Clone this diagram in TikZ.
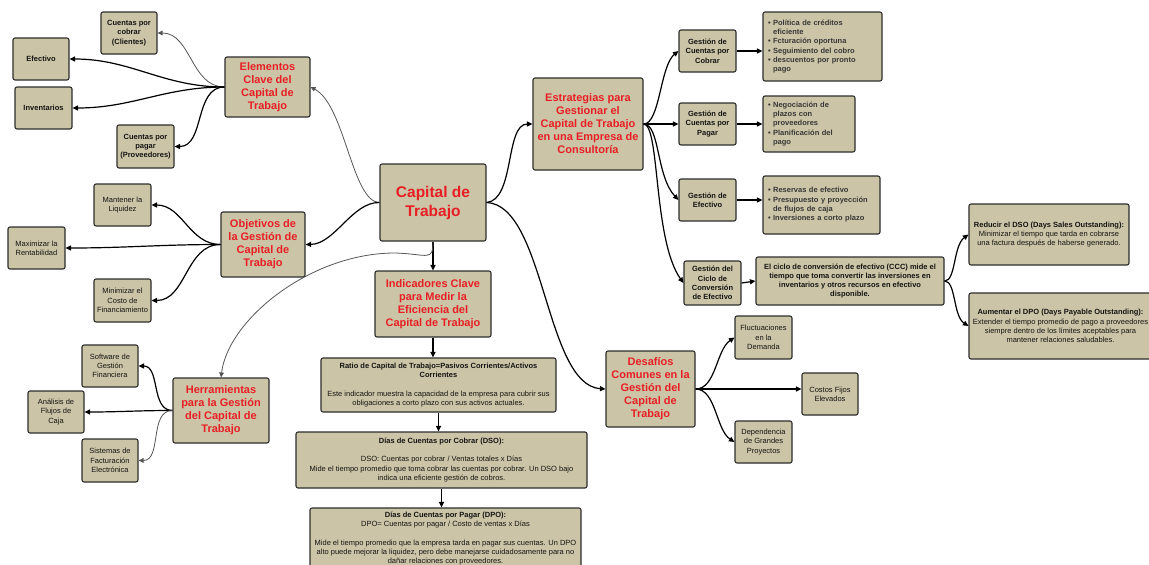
\documentclass[tikz,border=0pt]{standalone}
\usepackage{fontspec}
\setmainfont{Liberation Sans}
\usetikzlibrary{arrows.meta}
\definecolor{boxfill}{RGB}{204,196,166}
\definecolor{boxline}{RGB}{45,45,45}
\definecolor{titlered}{RGB}{232,30,36}
\definecolor{linegray}{RGB}{85,85,85}
\definecolor{bullettext}{RGB}{55,55,55}

\tikzset{
  box/.style={draw=boxline, fill=boxfill, line width=1.1pt, rounded corners=2pt,
              inner sep=0pt, align=center, text=black!92},
  sz/.style 2 args={minimum width=#1pt, minimum height=#2pt},
  title/.style={box, text=titlered, font=\fontsize{11}{13}\selectfont\bfseries},
  leaf/.style={box, font=\fontsize{7.5}{9.3}\selectfont},
  leafb/.style={box, font=\fontsize{7.5}{9.3}\selectfont\bfseries},
  listbox/.style={leafb, text=bullettext, align=left, inner xsep=5pt, text width=#1pt},
  conn/.style={line width=1.2pt, draw=black, -{Triangle[length=5.5pt,width=5pt]}},
  thinconn/.style={line width=0.8pt, draw=linegray, -{Triangle[length=5pt,width=4.6pt]}},
}
\newcommand{\bul}{\textbullet\ }
\newcommand{\hang}{\phantom{\textbullet\ }}

\begin{document}
\begin{tikzpicture}[x=1pt,y=-1pt]
\useasboundingbox (0,0) rectangle (1149,565);
\clip (0,0) rectangle (1149,565);

% central topic
\node[box, sz={106}{77}, text=titlered, font=\fontsize{15.5}{19}\selectfont\bfseries]
  (cap) at (433,202.5) {Capital de\\Trabajo};

% key elements
\node[title, sz={85}{60}] (elem) at (267.5,87) {Elementos\\Clave del\\Capital de\\Trabajo};
\node[leafb, sz={56}{42}] (cxc) at (129,33) {Cuentas por\\cobrar\\(Clientes)};
\node[leafb, sz={56}{42}] (efe) at (41,59) {Efectivo};
\node[leafb, sz={57}{42}] (inv) at (43.5,108) {Inventarios};
\node[leafb, sz={57}{43}] (cxp) at (145.5,146.5) {Cuentas por\\pagar\\(Proveedores)};

% objectives
\node[title, sz={84}{65}] (obj) at (263,244.5) {Objetivos de\\la Gestión de\\Capital de\\Trabajo};
\node[leaf, sz={57}{42}] (mant) at (122.5,205) {Mantener la\\Liquidez};
\node[leaf, sz={57}{42}] (maxi) at (36.5,248) {Maximizar la\\Rentabilidad};
\node[leaf, sz={57}{43}] (mini) at (122.5,300.5) {Minimizar el\\Costo de\\Financiamiento};

% tools
\node[title, sz={96}{65}] (herr) at (221,410.5) {Herramientas\\para la Gestión\\del Capital de\\Trabajo};
\node[leaf, sz={56}{42}] (soft) at (110,366) {Software de\\Gestión\\Financiera};
\node[leaf, sz={56}{42}] (anal) at (56,412) {Análisis de\\Flujos de\\Caja};
\node[leaf, sz={56}{43}] (sist) at (110,460.5) {Sistemas de\\Facturación\\Electrónica};

% indicators
\node[title, sz={116}{66}] (ind) at (433,304) {Indicadores Clave\\para Medir la\\Eficiencia del\\Capital de Trabajo};
\node[leaf, sz={235}{54}] (ratio) at (438.5,385)
  {\textbf{Ratio de Capital de Trabajo=Pasivos Corrientes/Activos}\\\textbf{Corrientes}\\[9.3pt]
   Este indicador muestra la capacidad de la empresa para cubrir sus\\obligaciones a corto plazo con sus activos actuales.};
\node[leaf, sz={291}{56}] (dso) at (441.5,460)
  {\textbf{Días de Cuentas por Cobrar (DSO):}\\[9.3pt]
   DSO: Cuentas por cobrar / Ventas totales x Días\\
   Mide el tiempo promedio que toma cobrar las cuentas por cobrar. Un DSO bajo\\
   indica una eficiente gestión de cobros.};
\node[leaf, sz={271}{61}] (dpo) at (445.5,538.5)
  {\textbf{Días de Cuentas por Pagar (DPO):}\\
   DPO= Cuentas por pagar / Costo de ventas x Días\\[9.3pt]
   Mide el tiempo promedio que la empresa tarda en pagar sus cuentas. Un DPO\\
   alto puede mejorar la liquidez, pero debe manejarse cuidadosamente para no\\
   dañar relaciones con proveedores.};

% strategies
\node[title, sz={110}{92}] (estr) at (588,124) {Estrategias para\\Gestionar el\\Capital de Trabajo\\en una Empresa de\\Consultoría};
\node[leafb, sz={57}{42}] (gcc) at (707.5,51) {Gestión de\\Cuentas por\\Cobrar};
\node[leafb, sz={57}{42}] (gcp) at (707.5,124) {Gestión de\\Cuentas por\\Pagar};
\node[leafb, sz={57}{42}] (gef) at (707.5,200) {Gestión de\\Efectivo};
\node[leafb, sz={57}{44}] (gci) at (712.5,283) {Gestión del\\Ciclo de\\Conversión\\de Efectivo};

\node[listbox=109, sz={119}{69}] (lcc) at (822.5,46.5)
  {\bul Política de créditos\\\hang eficiente\\\bul Fcturación oportuna\\\bul Seguimiento del cobro\\\bul descuentos por pronto\\\hang pago};
\node[listbox=82, sz={92}{56}] (lcp) at (809,124)
  {\bul Negociación de\\\hang plazos con\\\hang proveedores\\\bul Planificación del\\\hang pago};
\node[listbox=107, sz={117}{58}] (lef) at (821.5,205)
  {\bul Reservas de efectivo\\\bul Presupuesto y proyección\\\hang de flujos de caja\\\bul Inversiones a corto plazo};
\node[leafb, sz={188}{48}] (ccc) at (850,281)
  {El ciclo de conversión de efectivo (CCC) mide el\\tiempo que toma convertir las inversiones en\\inventarios y otros recursos en efectivo\\disponible.};
\node[leaf, sz={160}{61}] (red) at (1049,234.5)
  {\textbf{Reducir el DSO (Days Sales Outstanding):}\\Minimizar el tiempo que tarda en cobrarse\\una factura después de haberse generado.};
\node[leaf, sz={183}{66}] (aum) at (1060.5,326)
  {\textbf{Aumentar el DPO (Days Payable Outstanding):}\\Extender el tiempo promedio de pago a proveedores\\siempre dentro de los límites aceptables para\\mantener relaciones saludables.};

% challenges
\node[title, sz={89}{76}] (des) at (650.5,389) {Desafíos\\Comunes en la\\Gestión del\\Capital de\\Trabajo};
\node[leaf, sz={57}{43}] (fluc) at (763.5,337.5) {Fluctuaciones\\en la\\Demanda};
\node[leaf, sz={56}{42}] (cos) at (830,394) {Costos Fijos\\Elevados};
\node[leaf, sz={57}{42}] (dep) at (763.5,442) {Dependencia\\de Grandes\\Proyectos};

% connectors from the central topic
\draw[thinconn] (cap.west) .. controls (352,202) and (345,105) .. (elem.east);
\draw[conn] (cap.west) .. controls (352,202) and (335,244) .. (obj.east);
\draw[conn] (cap.south) -- (ind.north);
\draw[thinconn] (cap.south) .. controls (433,262) and (428,254) .. (395,253)
  .. controls (310,253) and (228,320) .. (herr.north);
\draw[conn] (cap.east) .. controls (515,200) and (505,124) .. (estr.west);
\draw[conn] (cap.east) .. controls (545,205) and (545,385) .. (des.west);

% key elements
\draw[thinconn] (elem.west) to[out=180,in=0] (cxc.east);
\draw[conn] (elem.west) to[out=180,in=0] (efe.east);
\draw[conn] (elem.west) to[out=180,in=0] (inv.east);
\draw[conn] (elem.west) to[out=180,in=0] (cxp.east);

% objectives
\draw[conn] (obj.west) to[out=180,in=0] (mant.east);
\draw[conn] (obj.west) to[out=180,in=0] (maxi.east);
\draw[conn] (obj.west) to[out=180,in=0] (mini.east);

% tools
\draw[conn] (herr.west) to[out=180,in=0] (soft.east);
\draw[conn] (herr.west) to[out=180,in=0] (anal.east);
\draw[thinconn] (herr.west) to[out=180,in=0] (sist.east);

% indicators chain
\draw[conn] (ind.south) -- (ind.south |- ratio.north);
\draw[conn] (ratio.south) -- (ratio.south |- dso.north);
\draw[conn] (dso.south) -- (dso.south |- dpo.north);

% strategies
\draw[conn] (estr.east) .. controls (660,124) and (660,66) .. (gcc.west);
\draw[conn] (estr.east) -- (gcp.west);
\draw[conn] (estr.east) .. controls (660,124) and (656,176) .. (gef.west);
\draw[conn] (estr.east) .. controls (660,124) and (653,240) .. (gci.west);
\draw[conn] (gcc.east) -- (gcc.east -| lcc.west);
\draw[conn] (gcp.east) -- (lcp.west);
\draw[conn] (gef.east) -- (gef.east -| lef.west);
\draw[conn] (gci.east) -- (ccc.west);
\draw[conn] (ccc.east) .. controls (956,281) and (953,246) .. (red.west);
\draw[conn] (ccc.east) .. controls (956,281) and (953,316) .. (aum.west);

% challenges
\draw[conn] (des.east) .. controls (716,389) and (716,350) .. (fluc.west);
\draw[conn] (des.east) -- (des.east -| cos.west);
\draw[conn] (des.east) .. controls (716,389) and (716,430) .. (dep.west);
\end{tikzpicture}
\end{document}
